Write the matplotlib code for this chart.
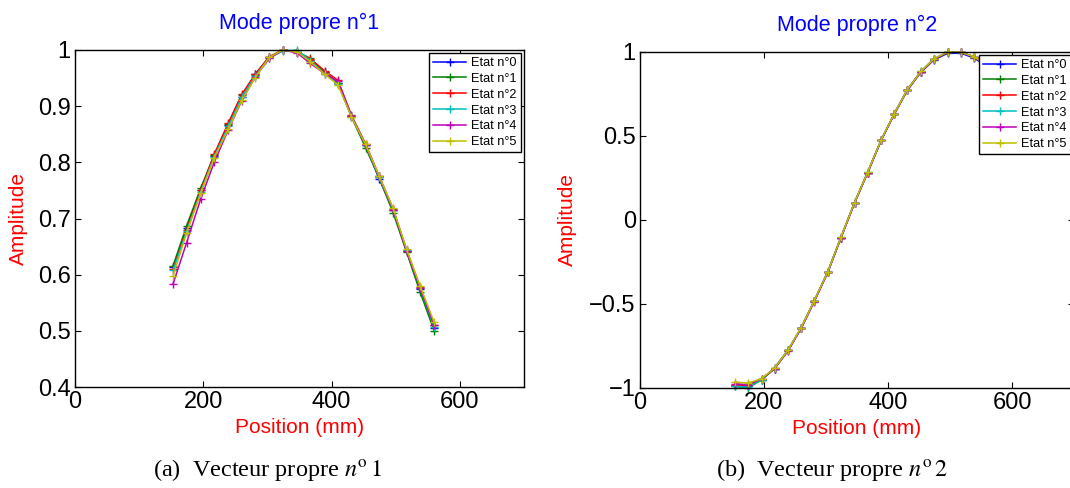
import matplotlib
matplotlib.use("Agg")
import matplotlib.pyplot as plt
from matplotlib.ticker import FuncFormatter

plt.rcParams['font.family'] = ['Liberation Sans', 'DejaVu Sans']
plt.rcParams['mathtext.fontset'] = 'stix'
plt.rcParams['axes.unicode_minus'] = True

positions = [153, 174, 196, 217, 239, 260, 281, 303, 324, 346,
             367, 389, 410, 431, 453, 474, 496, 517, 538, 560]

labels = ["Etat n°0", "Etat n°1", "Etat n°2", "Etat n°3", "Etat n°4", "Etat n°5"]
colors = [(0, 0, 1), (0, 0.5, 0), (1, 0, 0), (0, 0.75, 0.75), (0.75, 0, 0.75), (0.75, 0.75, 0)]

mode1_etat0 = [0.613, 0.683, 0.751, 0.811, 0.866, 0.917, 0.957, 0.987, 1.000, 0.997,
               0.982, 0.960, 0.942, 0.882, 0.830, 0.771, 0.715, 0.642, 0.575, 0.505]
mode1_etat1 = [0.616, 0.687, 0.754, 0.813, 0.869, 0.919, 0.956, 0.988, 1.000, 0.997,
               0.985, 0.961, 0.941, 0.881, 0.826, 0.773, 0.710, 0.640, 0.569, 0.500]
mode1_etat2 = [0.610, 0.680, 0.750, 0.814, 0.870, 0.921, 0.957, 0.988, 1.000, 0.996,
               0.984, 0.963, 0.946, 0.884, 0.833, 0.776, 0.717, 0.643, 0.578, 0.510]
mode1_etat3 = [0.608, 0.677, 0.747, 0.810, 0.864, 0.916, 0.954, 0.986, 0.998, 1.000,
               0.981, 0.958, 0.940, 0.883, 0.830, 0.774, 0.715, 0.644, 0.576, 0.507]
mode1_etat4 = [0.584, 0.657, 0.735, 0.800, 0.858, 0.910, 0.952, 0.985, 1.000, 0.995,
               0.976, 0.958, 0.944, 0.882, 0.831, 0.775, 0.716, 0.642, 0.577, 0.510]
mode1_etat5 = [0.598, 0.674, 0.745, 0.808, 0.859, 0.911, 0.951, 0.987, 1.000, 0.997,
               0.979, 0.957, 0.938, 0.881, 0.832, 0.776, 0.718, 0.645, 0.580, 0.515]

mode2_etat0 = [-0.985, -0.990, -0.950, -0.884, -0.776, -0.643, -0.483, -0.309, -0.106, 0.102,
               0.281, 0.474, 0.629, 0.771, 0.879, 0.953, 0.992, 0.994, 0.965, 0.915]
mode2_etat1 = [-0.990, -1.000, -0.952, -0.885, -0.775, -0.642, -0.482, -0.308, -0.105, 0.103,
               0.282, 0.476, 0.631, 0.774, 0.883, 0.958, 0.998, 1.000, 0.972, 0.920]
mode2_etat2 = [-0.980, -0.985, -0.948, -0.883, -0.774, -0.641, -0.482, -0.308, -0.105, 0.103,
               0.282, 0.476, 0.631, 0.774, 0.883, 0.958, 0.998, 1.000, 0.972, 0.920]
mode2_etat3 = [-0.990, -0.995, -0.952, -0.878, -0.772, -0.640, -0.481, -0.307, -0.104, 0.104,
               0.283, 0.477, 0.632, 0.775, 0.884, 0.959, 0.999, 1.000, 0.973, 0.921]
mode2_etat4 = [-0.975, -0.980, -0.946, -0.884, -0.777, -0.645, -0.486, -0.311, -0.107, 0.101,
               0.280, 0.475, 0.630, 0.773, 0.882, 0.957, 0.998, 1.000, 0.971, 0.919]
mode2_etat5 = [-0.965, -0.970, -0.945, -0.882, -0.773, -0.640, -0.481, -0.307, -0.104, 0.104,
               0.283, 0.477, 0.632, 0.775, 0.884, 0.959, 1.000, 0.999, 0.973, 0.922]

mode1 = [mode1_etat0, mode1_etat1, mode1_etat2, mode1_etat3, mode1_etat4, mode1_etat5]
mode2 = [mode2_etat0, mode2_etat1, mode2_etat2, mode2_etat3, mode2_etat4, mode2_etat5]

titles = ["Mode propre n°1", "Mode propre n°2"]
captions = [r"(a)  Vecteur propre $n^{\mathrm{o}}\,1$", r"(b)  Vecteur propre $n^{\mathrm{o}}\,2$"]

W, H = 1070, 488
fig = plt.figure(figsize=(W / 100, H / 100), dpi=100)

def box(x0, y0, x1, y1):
    return [x0 / W, 1 - y1 / H, (x1 - x0) / W, (y1 - y0) / H]

ax1 = fig.add_axes(box(75, 50, 524, 387))
ax2 = fig.add_axes(box(640, 52, 1074, 388))

for ax, data, title, ylim, yticks, ylx in [
        (ax1, mode1, titles[0], (0.4, 1.0), [0.4, 0.5, 0.6, 0.7, 0.8, 0.9, 1.0], -0.105),
        (ax2, mode2, titles[1], (-1.0, 1.0), [-1, -0.5, 0, 0.5, 1], -0.145)]:
    for ys, c, lab in zip(data, colors, labels):
        ax.plot(positions, ys, color=c, lw=1.1, marker='+', ms=6, mew=1.0,
                label=lab, clip_on=False)
    ax.set_xlim(0, 700)
    ax.set_ylim(*ylim)
    ax.set_xticks([0, 200, 400, 600])
    ax.set_yticks(yticks)
    ax.yaxis.set_major_formatter(FuncFormatter(lambda v, p: ('%g' % v).replace('-', '\u2212')))
    ax.tick_params(direction='in', length=4, width=0.8, top=True, right=True,
                   labelsize=17, pad=3, colors='black')
    for s in ax.spines.values():
        s.set_linewidth(1.0)
    ax.set_title(title, color=(0, 0, 1), fontsize=15.5, pad=15)
    ax.set_xlabel("Position (mm)", color='red', fontsize=15)
    ax.set_ylabel("Amplitude", color='red', fontsize=15)
    ax.xaxis.set_label_coords(0.5, -0.093)
    ax.yaxis.set_label_coords(ylx, 0.5)
    leg = ax.legend(loc='upper right', fontsize=9.2, frameon=True, fancybox=False,
                    framealpha=1, edgecolor='black', borderaxespad=0.25,
                    handlelength=2.6, handletextpad=0.4, labelspacing=0.3,
                    borderpad=0.3)
    leg.get_frame().set_linewidth(1.0)

fig.text(267 / W, 1 - 470 / H, captions[0], ha='center', va='center',
         fontsize=17.5, family='Liberation Serif')
fig.text(832 / W, 1 - 470 / H, captions[1], ha='center', va='center',
         fontsize=17.5, family='Liberation Serif')

fig.savefig("out.png", dpi=100)
